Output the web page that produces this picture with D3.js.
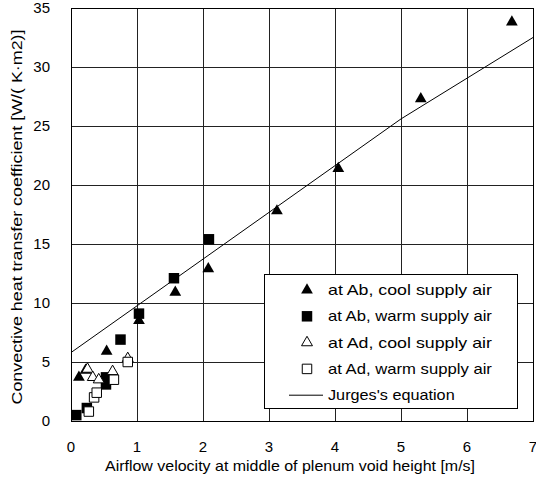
<!DOCTYPE html>
<html>
<head>
<meta charset="utf-8">
<script src="https://cdn.jsdelivr.net/npm/d3@7"></script>
<style>
  body { margin: 0; background: #fff; }
  text { font-family: "Liberation Sans", Arial, sans-serif; fill: #000; }
</style>
</head>
<body>
<svg id="chart"></svg>
<script>
// values: [velocity m/s, coefficient W/(m2K)]
const abCool = [[0.12, 3.7], [0.22, 4.3], [0.54, 5.9], [1.03, 8.5], [1.58, 10.9],
                [2.08, 12.9], [3.12, 17.8], [4.05, 21.4], [5.3, 27.3], [6.68, 33.8]];
const abWarm = [[0.08, 0.5], [0.24, 1.1], [0.53, 3.1], [0.53, 3.7], [0.75, 6.9],
                [1.03, 9.1], [1.56, 12.1], [2.09, 15.4]];
const adCool = [[0.25, 4.4], [0.33, 3.7], [0.42, 3.5], [0.63, 4.2], [0.86, 5.3]];
const adWarm = [[0.27, 0.8], [0.35, 2.0], [0.39, 2.4], [0.65, 3.5], [0.86, 5.0]];
const jurges = [[0, 5.8], [5, 25.6], [7, 32.5]];

const xTicks = [0, 1, 2, 3, 4, 5, 6, 7];
const yTicks = [0, 5, 10, 15, 20, 25, 30, 35];
const legendLabels = ["at Ab, cool supply air", "at Ab, warm supply air",
                      "at Ad, cool supply air", "at Ad, warm supply air", "Jurges's equation"];

const width = 536, height = 490;
const margin = {top: 8, right: 3, bottom: 69, left: 71};

const svg = d3.select("#chart").attr("width", width).attr("height", height);

const x = d3.scaleLinear().domain([0, 7]).range([margin.left, width - margin.right]);
const y = d3.scaleLinear().domain([0, 35]).range([height - margin.bottom, margin.top]);

// grid
svg.append("g").selectAll("line").data(xTicks).join("line")
  .attr("x1", d => x(d)).attr("x2", d => x(d))
  .attr("y1", y(0)).attr("y2", y(35))
  .attr("stroke", "#222").attr("stroke-width", 1).attr("shape-rendering", "crispEdges");
svg.append("g").selectAll("line").data(yTicks).join("line")
  .attr("x1", x(0)).attr("x2", x(7))
  .attr("y1", d => y(d)).attr("y2", d => y(d))
  .attr("stroke", "#222").attr("stroke-width", 1).attr("shape-rendering", "crispEdges");

svg.append("rect")
  .attr("x", x(0)).attr("y", y(35))
  .attr("width", x(7) - x(0)).attr("height", y(0) - y(35))
  .attr("fill", "none").attr("stroke", "#000").attr("shape-rendering", "crispEdges");

// tick labels
svg.append("g").selectAll("text").data(xTicks).join("text")
  .attr("x", d => x(d)).attr("y", 452)
  .attr("text-anchor", "middle").attr("font-size", 15)
  .text(d => d);
svg.append("g").selectAll("text").data(yTicks).join("text")
  .attr("x", 50).attr("y", d => y(d) + 5)
  .attr("text-anchor", "end").attr("font-size", 15)
  .text(d => d);

// axis titles
svg.append("text")
  .attr("x", 290).attr("y", 471)
  .attr("text-anchor", "middle").attr("font-size", 15)
  .attr("textLength", 370).attr("lengthAdjust", "spacingAndGlyphs")
  .text("Airflow velocity at middle of plenum void height [m/s]");
svg.append("text")
  .attr("transform", "translate(22,217) rotate(-90)")
  .attr("text-anchor", "middle").attr("font-size", 15)
  .attr("textLength", 375).attr("lengthAdjust", "spacingAndGlyphs")
  .text("Convective heat transfer coefficient [W/( K·m2)]");

// Jurges line
svg.append("path")
  .datum(jurges)
  .attr("d", d3.line().x(d => x(d[0])).y(d => y(d[1])))
  .attr("fill", "none").attr("stroke", "#000").attr("stroke-width", 1);

const tri = d3.symbol().type(d3.symbolTriangle).size(60);
const sq = d3.symbol().type(d3.symbolSquare).size(110);
const openTri = d3.symbol().type(d3.symbolTriangle).size(52);
const openSq = d3.symbol().type(d3.symbolSquare).size(90);

const series = [
  {data: abCool, path: tri(), fill: "#000", stroke: "none"},
  {data: abWarm, path: sq(), fill: "#000", stroke: "none"},
  {data: adCool, path: openTri(), fill: "#fff", stroke: "#000"},
  {data: adWarm, path: openSq(), fill: "#fff", stroke: "#000"}
];

series.forEach(s => {
  svg.append("g").selectAll("path").data(s.data).join("path")
    .attr("d", s.path)
    .attr("transform", d => `translate(${x(d[0])},${y(d[1])})`)
    .attr("fill", s.fill).attr("stroke", s.stroke).attr("stroke-width", 1);
});

// legend
const legend = svg.append("g");
legend.append("rect")
  .attr("x", 264.5).attr("y", 274.5).attr("width", 253).attr("height", 134)
  .attr("fill", "#fff").attr("stroke", "#000");

legendLabels.forEach((label, i) => {
  const cy = 290 + i * 26.3;
  if (i < 4) {
    legend.append("path")
      .attr("d", series[i].path)
      .attr("transform", `translate(307,${cy})`)
      .attr("fill", series[i].fill).attr("stroke", series[i].stroke);
  } else {
    legend.append("line")
      .attr("x1", 289).attr("x2", 323).attr("y1", cy).attr("y2", cy)
      .attr("stroke", "#000");
  }
  legend.append("text")
    .attr("x", 328).attr("y", cy + 5)
    .attr("font-size", 15)
    .attr("textLength", label.length * 7.45).attr("lengthAdjust", "spacingAndGlyphs")
    .text(label);
});
</script>
</body>
</html>
